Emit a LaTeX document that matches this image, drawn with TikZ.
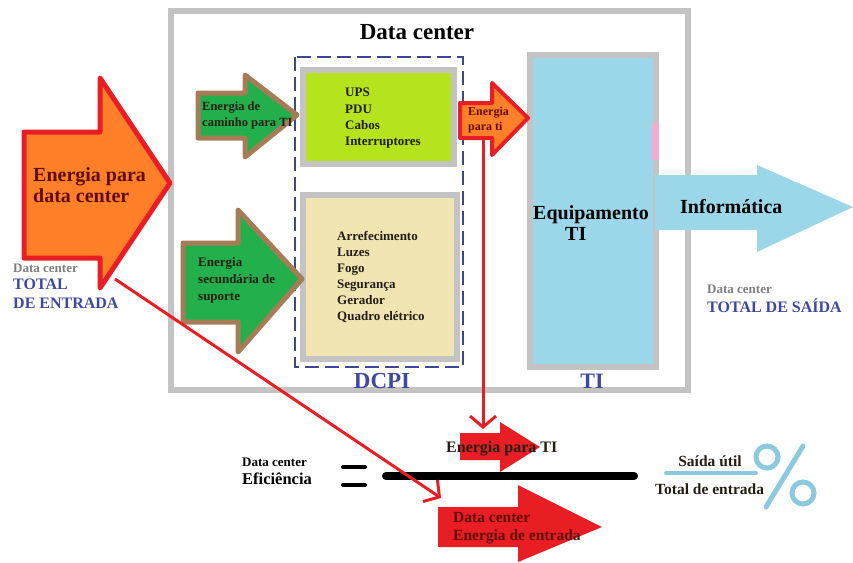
\documentclass[tikz,border=0pt]{standalone}
\usepackage{fontspec}
\setmainfont{Liberation Serif}
\usetikzlibrary{arrows.meta}
\definecolor{boxgray}{RGB}{195,195,195}
\definecolor{arrred}{RGB}{232,30,36}
\definecolor{arrorange}{RGB}{255,128,40}
\definecolor{arrgreen}{RGB}{34,175,76}
\definecolor{arrbrown}{RGB}{166,124,86}
\definecolor{limefill}{RGB}{181,228,30}
\definecolor{beigefill}{RGB}{239,228,178}
\definecolor{tiblue}{RGB}{155,214,233}
\definecolor{pctblue}{RGB}{140,200,222}
\definecolor{lblblue}{RGB}{63,72,160}
\definecolor{dashblue}{RGB}{60,70,150}
\definecolor{lblgray}{RGB}{125,125,125}
\definecolor{darktxt}{RGB}{35,30,20}
\definecolor{maroon}{RGB}{95,12,8}
\definecolor{pinkmark}{RGB}{245,172,202}
\newcommand{\fsz}[2]{\fontsize{#1}{#2}\selectfont\bfseries}
\begin{document}
\begin{tikzpicture}[x=1pt,y=-1pt,
  lbl/.style={inner sep=0, anchor=base west},
  lblc/.style={inner sep=0, anchor=base},
  blk/.style={inner sep=0, anchor=north west, align=left},
  graybox/.style={draw=boxgray, line width=6pt},
  bigarrow/.style={draw=arrred, fill=arrorange, line width=5pt, line join=round},
  greenarrow/.style={draw=arrbrown, fill=arrgreen, line width=5pt, line join=round},
  flatred/.style={fill=arrred},
  redconn/.style={draw=arrred, line width=3pt, -{Straight Barb[length=11pt,width=26pt]}}
]
\useasboundingbox (0,0) rectangle (853,562);

% outer data center box
\draw[graybox] (171,11) rectangle (688,390);
\node[lblc, font=\fsz{23}{23}] (title) at (417,39.5) {Data center};

% dashed DCPI box
\draw[dashblue, line width=2.2pt, dash pattern=on 14pt off 6pt] (295,57) rectangle (463,367);
\node[lblc, font=\fsz{23}{23}, text=lblblue] (dcpi) at (382,388) {DCPI};

% UPS box
\draw[graybox, fill=limefill] (303,70) rectangle (454,164);
\node[blk, font=\fsz{13}{16.3}, text=darktxt] (ups) at (345,85.3) {\strut UPS\\PDU\\Cabos\\Interruptores};

% support box
\draw[graybox, fill=beigefill] (303,195) rectangle (457,359);
\node[blk, font=\fsz{13}{16}, text=darktxt] (sup) at (337,229.5) {\strut Arrefecimento\\Luzes\\Fogo\\Seguran\c{c}a\\Gerador\\Quadro el\'etrico};

% TI box
\draw[graybox, fill=tiblue] (530,55) rectangle (656,367);
\fill[pinkmark] (652,123) rectangle (659,160);
\node[lbl, font=\fsz{20}{20}] (equip) at (533,219) {Equipamento};
\node[lbl, font=\fsz{20}{20}] (equipti) at (565,240) {TI};
\node[lblc, font=\fsz{22}{22}, text=lblblue] (tilbl) at (592,388) {TI};

% Informatica arrow
\fill[tiblue] (655,175) -- (757,175) -- (757,165) -- (853,207) -- (757,252) -- (757,230) -- (655,230) -- cycle;
\node[lbl, font=\fsz{20}{20}] (info) at (680,213) {Inform\'atica};

% big orange arrow
\draw[bigarrow] (24,132) -- (100,132) -- (100,78) -- (170,183) -- (100,288) -- (100,258) -- (24,258) -- cycle;
\node[blk, font=\fsz{20}{21}, text=maroon] (bigtxt) at (33,166.3) {\strut Energia para\\data center};

% green arrows
\draw[greenarrow] (198,93) -- (245,93) -- (245,75) -- (297,115) -- (245,157) -- (245,138) -- (198,138) -- cycle;
\node[blk, font=\fsz{12.5}{16}, text=darktxt] (g1txt) at (202,99.3) {\strut Energia de\\caminho para TI};
\draw[greenarrow] (183,243) -- (238,243) -- (238,210) -- (302,279) -- (238,352) -- (238,322) -- (183,322) -- cycle;
\node[blk, font=\fsz{13}{17}, text=darktxt] (g2txt) at (198,254.8) {\strut Energia\\secund\'aria de\\suporte};

% small orange arrow
\draw[bigarrow, line width=4pt] (460,103) -- (492,103) -- (492,83) -- (528,118) -- (492,155) -- (492,138) -- (460,138) -- cycle;
\node[blk, font=\fsz{12}{15}, text=maroon] (smtxt) at (468,104.9) {\strut Energia\\para ti};

% left / right labels
\node[lbl, font=\fsz{13}{13}, text=lblgray] (dcin) at (13,272) {Data center};
\node[lbl, font=\fsz{16}{16}, text=lblblue] (totin) at (13,289) {TOTAL};
\node[lbl, font=\fsz{16}{16}, text=lblblue] (dein) at (13,308.5) {DE ENTRADA};
\node[lbl, font=\fsz{13}{13}, text=lblgray] (dcout) at (707,293) {Data center};
\node[lbl, font=\fsz{16}{16}, text=lblblue] (totout) at (707,312) {TOTAL DE SA\'IDA};

% efficiency formula
\node[lbl, font=\fsz{13}{13}] (dceff) at (242,466) {Data center};
\node[lbl, font=\fsz{16.5}{16.5}] (eff) at (242,484) {Efici\^encia};
\draw[line width=4pt, line cap=round] (343,467) -- (365,467);
\draw[line width=4pt, line cap=round] (343,485) -- (365,485);
\fill[flatred] (460,433) -- (500,433) -- (500,422) -- (540,447) -- (500,472) -- (500,460) -- (460,460) -- cycle;
\node[lbl, font=\fsz{16}{16}, text=darktxt] (eit) at (446,452) {Energia para TI};
\draw[line width=8pt, line cap=round] (386,476) -- (634,476);
\fill[flatred] (438,507) -- (518,507) -- (518,485) -- (602,527) -- (518,562) -- (518,547) -- (438,547) -- cycle;
\node[lbl, font=\fsz{15.5}{15.5}, text=maroon] (dcen) at (453,522) {Data center};
\node[lbl, font=\fsz{15.5}{15.5}, text=maroon] (enen) at (453,540) {Energia de entrada};

% connectors
\coordinate (smallfoot) at (483,138);
\coordinate (eittop) at (483,429);
\coordinate (bigfoot) at (115,279);
\coordinate (entop) at (441,498);
\draw[redconn] (smallfoot) -- (eittop);
\draw[redconn] (bigfoot) -- (entop);

% percent fraction
\node[lblc, font=\fsz{15.5}{15.5}, text=darktxt] (saida) at (710,466) {Sa\'ida \'util};
\draw[pctblue, line width=4pt, line cap=round] (666,473) -- (756,473);
\node[lbl, font=\fsz{15.5}{15.5}, text=darktxt] (totent) at (655,494) {Total de entrada};
\draw[pctblue, line width=5pt] (767,457) circle (11);
\draw[pctblue, line width=5pt] (803,493) circle (11);
\draw[pctblue, line width=5pt, line cap=round] (803,446) -- (766,507);
\end{tikzpicture}
\end{document}
